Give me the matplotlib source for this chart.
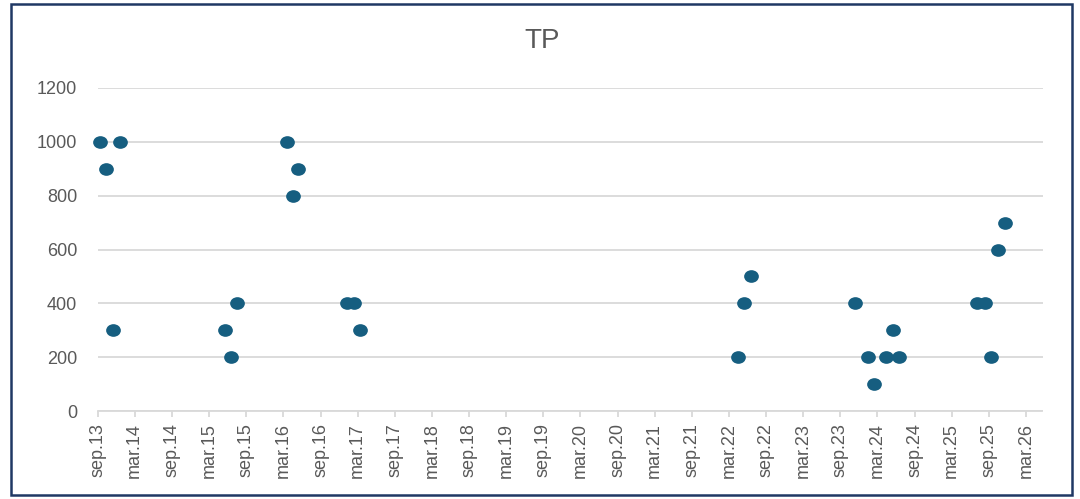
import matplotlib
matplotlib.use("Agg")
import matplotlib.pyplot as plt
from matplotlib.path import Path
from matplotlib.transforms import Affine2D
from matplotlib.patches import Rectangle
import pandas as pd

dates = ["2013-09-13", "2013-10-12", "2013-11-14", "2013-12-17",
         "2015-05-17", "2015-06-16", "2015-07-17",
         "2016-03-17", "2016-04-15", "2016-05-13",
         "2017-01-06", "2017-02-09", "2017-03-14",
         "2022-04-17", "2022-05-17", "2022-06-19",
         "2023-11-10", "2024-01-13", "2024-02-12", "2024-04-14", "2024-05-15", "2024-06-17",
         "2025-07-06", "2025-08-10", "2025-09-13", "2025-10-16", "2025-11-17"]
values = [1000, 900, 300, 1000,
          300, 200, 400,
          1000, 800, 900,
          400, 400, 300,
          200, 400, 500,
          400, 200, 100, 200, 300, 200,
          400, 400, 200, 600, 700]

tick_labels = ["sep.13", "mar.14", "sep.14", "mar.15", "sep.15", "mar.16", "sep.16",
               "mar.17", "sep.17", "mar.18", "sep.18", "mar.19", "sep.19", "mar.20",
               "sep.20", "mar.21", "sep.21", "mar.22", "sep.22", "mar.23", "sep.23",
               "mar.24", "sep.24", "mar.25", "sep.25", "mar.26"]
y_ticks = [0, 200, 400, 600, 800, 1000, 1200]

plt.rcParams['font.family'] = ['Liberation Sans', 'DejaVu Sans']
grey = '#595959'
dot = '#165e80'

x = pd.to_datetime(dates)
tick_pos = pd.date_range("2013-09-01", "2026-03-01", freq="6MS")

fig = plt.figure(figsize=(10.8, 4.99), dpi=100)
ax = fig.add_axes([98/1080, 88/499, 944.5/1080, 323/499])

# slightly flattened circle like the Excel markers
ellipse = Path.unit_circle().transformed(Affine2D().scale(1, 0.86))
ax.plot(x, values, linestyle='none', marker=ellipse, markersize=10.6,
        color=dot, markeredgewidth=0, zorder=3, clip_on=False)

ax.set_xlim(pd.Timestamp("2013-09-01"), pd.Timestamp("2026-05-22"))
ax.set_ylim(0, 1200)
ax.set_yticks(y_ticks)
ax.set_xticks(tick_pos)
ax.set_xticklabels(tick_labels, rotation=90)

ax.grid(axis='y', color='#d9d9d9', linewidth=1.3)
ax.set_axisbelow(True)
for side in ['left', 'right', 'top']:
    ax.spines[side].set_visible(False)
ax.spines['bottom'].set_color('#d9d9d9')
ax.spines['bottom'].set_linewidth(1.3)
ax.tick_params(axis='y', length=0, pad=15, labelsize=13, labelcolor=grey)
ax.tick_params(axis='x', length=4.5, width=1.3, color='#d9d9d9', pad=4,
               labelsize=13, labelcolor=grey)

fig.text(0.502, 0.918, "TP", ha='center', va='center', fontsize=20, color=grey)

# navy frame around the chart
fig.patches.append(Rectangle((11/1080, 4/499), 1061/1080, 491/499, transform=fig.transFigure,
                             fill=False, edgecolor='#1f3864', linewidth=1.8))

fig.savefig("out.png", dpi=100)
